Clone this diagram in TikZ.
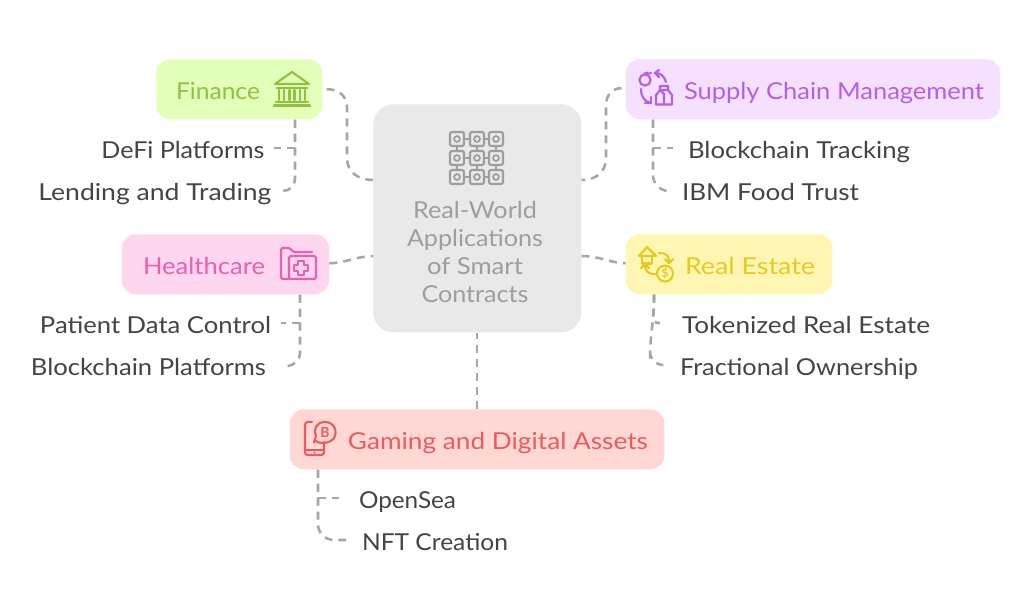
\documentclass[tikz,border=0pt]{standalone}
\usepackage{fontspec}
\usepackage{graphicx}
\setmainfont{Lato}
\usetikzlibrary{calc}
\definecolor{finfill}{HTML}{E3FFB9}\definecolor{fintext}{HTML}{8FC23E}
\definecolor{supfill}{HTML}{F5E0FF}\definecolor{suptext}{HTML}{B55FE8}
\definecolor{heafill}{HTML}{FFD6F0}\definecolor{heatext}{HTML}{EA5FB2}
\definecolor{reafill}{HTML}{FFF6B3}\definecolor{reatext}{HTML}{E6CB1F}
\definecolor{gamfill}{HTML}{FFD8D6}\definecolor{gamtext}{HTML}{EC5B5B}
\definecolor{ctrfill}{HTML}{E9E9E9}\definecolor{ctrtext}{HTML}{9E9E9E}
\definecolor{labtext}{HTML}{444444}\definecolor{linecol}{HTML}{A6A6A6}
\newcommand{\tw}[2]{\resizebox{#1\dimexpr0.75pt\relax}{\height}{#2}}
\tikzset{
 x=0.75pt,y=-0.75pt,
 box/.style={rounded corners=10.5pt,inner sep=0pt,anchor=north west},
 lab/.style={text=labtext,font=\fontsize{17.5}{21}\selectfont,inner sep=0pt,outer sep=#1*0.75pt,anchor=base},
 head/.style={font=\fontsize{17.5}{21}\selectfont,inner sep=0pt,anchor=base},
 conn/.style={draw=linecol,line width=1.9pt,dash pattern=on 6pt off 4.5pt},
 ico/.style={line width=1.6pt,line join=round,line cap=round},
}
\begin{document}
\begin{tikzpicture}
\useasboundingbox[fill=white] (0,0) rectangle (1024,611);
% boxes
\node[box,fill=ctrfill,minimum width=156pt,minimum height=171pt,rounded corners=15pt] (ctr) at (373,104) {};
\node[box,fill=finfill,minimum width=124.5pt,minimum height=45pt] (fin) at (156,59) {};
\node[box,fill=supfill,minimum width=281pt,minimum height=45pt] (sup) at (625.5,59) {};
\node[box,fill=heafill,minimum width=155.5pt,minimum height=45pt] (hea) at (121.5,234) {};
\node[box,fill=reafill,minimum width=155pt,minimum height=45pt] (rea) at (625.5,234) {};
\node[box,fill=gamfill,minimum width=281pt,minimum height=45pt] (gam) at (289.5,409) {};
% titles
\node[head,text=fintext] (fint) at (218,99.5) {\tw{84}{Finance}};
\node[head,text=suptext] (supt) at (834,99.5) {\tw{300}{Supply Chain Management}};
\node[head,text=heatext] (heat) at (204,274.5) {\tw{122}{Healthcare}};
\node[head,text=reatext] (reat) at (750,274.5) {\tw{130}{Real Estate}};
\node[head,text=gamtext] (gamt) at (498,449.5) {\tw{300}{Gaming and Digital Assets}};
\node[head,text=ctrtext,align=center,anchor=center,font=\fontsize{17.5}{21}\selectfont] (ctrt) at (475,252) {\tw{124}{Real-World}\\\tw{136}{Applications}\\\tw{96}{of Smart}\\\tw{107}{Contracts}};
% labels
\node[lab=9] (defi) at (183,158.5) {\tw{163}{DeFi Platforms}};
\node[lab=6] (lend) at (155,200.5) {\tw{233}{Lending and Trading}};
\node[lab=15] (bct) at (799,158.5) {\tw{222}{Blockchain Tracking}};
\node[lab=15] (ibm) at (770.5,200.5) {\tw{177}{IBM Food Trust}};
\node[lab=10] (pat) at (155.5,333.5) {\tw{231}{Patient Data Control}};
\node[lab=21] (bcp) at (148.5,375.5) {\tw{235}{Blockchain Platforms}};
\node[lab=22] (tok) at (806,333.5) {\tw{248}{Tokenized Real Estate}};
\node[lab=17] (fra) at (799,375.5) {\tw{238}{Fractional Ownership}};
\node[lab=20] (ope) at (407.5,508.5) {\tw{97}{OpenSea}};
\node[lab=16] (nft) at (435,550.5) {\tw{146}{NFT Creation}};
% centre connectors
\draw[conn] ($(fin.east)+(4,0)$) .. controls (338,89) and (347,95) .. (347,108) -- (347,158) .. controls (347,172) and (358,180) .. (ctr.west |- 0,180);
\draw[conn] ($(sup.west)+(-4,-1)$) .. controls (614,88) and (606,93) .. (606,106) -- (606,158) .. controls (606,172) and (596,180) .. (ctr.east |- 0,180);
\draw[conn] ($(hea.east)+(0,-1)$) .. controls (345,263) and (358,256) .. (ctr.west |- 0,256);
\draw[conn] (ctr.east |- 0,256) .. controls (600,256) and (610,263) .. ($(rea.west)+(0,-1)$);
\draw[conn] (gam.north -| 477,0) -- (ctr.south -| 477,0);
% finance
\draw[conn] (fin.south -| 295,0) -- (295,148) -- (defi.east |- 0,148);
\draw[conn,rounded corners=9pt] (fin.south -| 295,0) -- (295,191) -- (lend.east |- 0,191);
% supply
\draw[conn] (sup.south -| 653,0) -- (653,148) -- (bct.west |- 0,148);
\draw[conn,rounded corners=12pt] (sup.south -| 653,0) -- (653,191) -- (ibm.west |- 0,191);
% healthcare
\draw[conn] (hea.south -| 300,0) -- (300,323) -- (pat.east |- 0,323);
\draw[conn,rounded corners=10pt] (hea.south -| 300,0) -- (300,366) -- (bcp.east |- 0,366);
% real estate
\draw[conn,rounded corners=5pt] (rea.south -| 654,0) -- (654,310) -- (652,323) -- (tok.west |- 0,323);
\draw[conn,rounded corners=10pt] (rea.south -| 654,0) -- (654,310) -- (650,345) -- (650,365) -- (fra.west |- 0,365);
% gaming
\draw[conn] (gam.south -| 318,0) -- (318,498) -- (ope.west |- 0,498);
\draw[conn,rounded corners=12pt] (gam.south -| 318,0) -- (318,540) -- (nft.west |- 0,540);
% centre icon
\foreach \cx in {457,477,496}{\foreach \cy in {139,158,177}{
  \draw[ctrtext,line width=1.6pt,rounded corners=1.5pt] (\cx-7,\cy-7) rectangle (\cx+7,\cy+7);
  \draw[ctrtext,line width=1.3pt] (\cx,\cy) circle[radius=2.2pt];
}}
\foreach \cy in {139,158,177}{\draw[ctrtext,line width=1.3pt] (464,\cy)--(470,\cy) (484,\cy)--(489,\cy);}
\foreach \cx in {457,477,496}{\draw[ctrtext,line width=1.3pt] (\cx,146)--(\cx,151) (\cx,165)--(\cx,170);}
% finance icon
\begin{scope}[fintext,ico]
\draw (292,72) -- (275,84) -- (309,84) -- cycle;
\foreach \c in {281.5,292,302.5}{\draw (\c-2.5,90) -- (\c-2.5,100) (\c+2.5,90) -- (\c+2.5,100);}
\draw (277,88)--(307,88);
\draw (276,102) -- (308,102);
\draw[line width=1.9pt] (274,105.5) -- (310,105.5);
\end{scope}
% supply icon
\begin{scope}[suptext,ico]
\draw (645,80) circle[radius=4.2pt];
\draw (647,74) -- (651,73) (644,74) -- (647,72.5);
\draw (666,82) .. controls (664,76) and (661,73) .. (655,73);
\draw (659,70) -- (655,73) -- (659,77);
\draw (641,89) .. controls (641,97) and (645,102) .. (651,103);
\draw (645,103) -- (651,103) -- (651,97);
\draw (656,104.5) -- (656,95) -- (660,90) -- (660,86) -- (668,86) -- (668,90) -- (672,95) -- (672,104.5) -- cycle;
\draw (664,104.5) -- (664,94) -- (660,90) (660,90) -- (668,90);
\end{scope}
% healthcare icon
\begin{scope}[heatext,ico]
\draw[rounded corners=1.5pt] (289,279) -- (281,279) -- (281,248) -- (291,248) -- (292,252) -- (312,252);
\draw[rounded corners=1.5pt] (289,279) -- (289,256) -- (316,256) -- (316,279) -- cycle;
\draw (298,261) -- (304,261) -- (304,265) -- (308,265) -- (308,271) -- (304,271) -- (304,275) -- (298,275) -- (298,271) -- (294,271) -- (294,265) -- (298,265) -- cycle;
\end{scope}
% real estate icon
\begin{scope}[reatext,ico]
\draw (639,256) -- (647,247) -- (656,256) -- cycle;
\draw (642,256) -- (642,263.5) -- (652,263.5) -- (652,256);
\draw (659,253) .. controls (666,253) and (669,255) .. (669,262);
\draw (665,259) -- (669,263) -- (673,259);
\draw (645,264) -- (641,268) (645,264) -- (649,268);
\draw (645,264) .. controls (645,272) and (648,274) .. (656,274);
\draw (665,273.5) circle[radius=6pt];
\node[reatext,inner sep=0pt,font=\bfseries\fontsize{9}{9}\selectfont] (reai) at (665,273.5) {\$};
\end{scope}
% gaming icon
\begin{scope}[gamtext,ico]
\draw[rounded corners=2pt] (312,422) -- (305,422) -- (305,455) -- (324,455) -- (324,442);
\draw (305,450) -- (324,450);
\fill (314.5,452.5) circle[radius=0.8pt];
\draw (316,441) .. controls (319,444) and (330,444) .. (334,438) .. controls (338,431) and (334,422) .. (325,422) .. controls (316,422) and (313,430) .. (316,436) -- (314,442) -- cycle;
\node[gamtext,inner sep=0pt,font=\bfseries\fontsize{10.5}{11}\selectfont] (gami) at (325,432) {B};
\end{scope}
\end{tikzpicture}
\end{document}
